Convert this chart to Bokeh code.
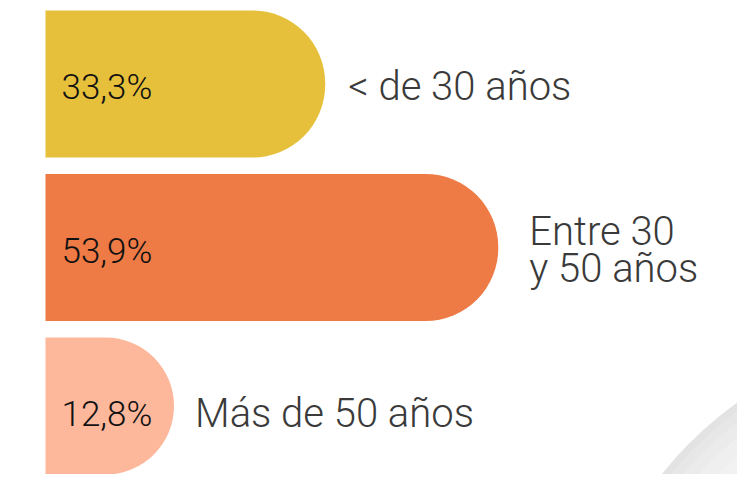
from bokeh.plotting import figure
from bokeh.models import ColumnDataSource, Range1d
from bokeh.embed import file_html
from bokeh.resources import INLINE
from bokeh.core.properties import value

# ---- data ----
categories = ["< de 30 años", "Entre 30\ny 50 años", "Más de 50 años"]
shares = [33.3, 53.9, 12.8]
pct_labels = ["33,3%", "53,9%", "12,8%"]

# ---- styles ----
colors = ["#E6C03A", "#EE7A45", "#FDB89C"]
MIN_SHOWN = 15.3          # a bar is never drawn shorter than its label needs
label_gaps = [23, 31, 21] # px between bar end and category label
LINE_STEP = 37            # px between lines of a two-line label
FONT = value("Roboto Light")

W, H = 737, 474
X0, X1 = -5.357, 82.38
Y0, Y1 = -0.5107, 2.388

shown = [max(v, MIN_SHOWN) for v in shares]
idx = list(range(len(categories)))

bars = ColumnDataSource(dict(y=idx, shown=shown, color=colors, pct=pct_labels))

lx, ly, lt, lxo, lyo = [], [], [], [], []
for i, cat in enumerate(categories):
    lines = cat.split("\n")
    n = len(lines)
    for j, line in enumerate(lines):
        lx.append(shown[i]); ly.append(i); lt.append(line)
        lxo.append(label_gaps[i])
        lyo.append(2 + (j - (n - 1) / 2) * LINE_STEP)
labels = ColumnDataSource(dict(x=lx, y=ly, text=lt, xo=lxo, yo=lyo))

p = figure(width=W, height=H, x_range=Range1d(X0, X1), y_range=Range1d(Y1, Y0),
           output_backend="svg", toolbar_location=None, min_border=0,
           outline_line_color=None, background_fill_color="white",
           border_fill_color="white")
p.axis.visible = False
p.grid.visible = False

# decorative shaded disc in the lower-right corner (pixel geometry)
def px_x(px):
    return X0 + px * (X1 - X0) / W
def px_y(py):
    return Y0 + py * (Y1 - Y0) / H
rings = [(380, "#e3e3e3"), (373, "#e7e7e7"), (364, "#ebebeb"),
         (352, "#efefef"), (338, "#f2f2f2"), (322, "#f5f5f5")]
p.scatter(x=[px_x(958)] * len(rings), y=[px_y(711)] * len(rings),
          size=[2 * r for r, _ in rings], fill_color=[c for _, c in rings],
          line_color=None, marker="circle")

p.hbar(y="y", left=0, right="shown", height=0.9, fill_color="color",
       line_color=None, border_radius=(0, 73, 73, 0), source=bars)

p.text(x=0, y="y", text="pct", x_offset=16, y_offset=3.5, source=bars,
       text_font=FONT, text_font_size="35px", text_color="#111111",
       text_baseline="alphabetic", text_align="left")

p.text(x="x", y="y", text="text", x_offset="xo", y_offset="yo", source=labels,
       text_font=FONT, text_font_size="40px", text_color="#3a3a3a",
       text_baseline="alphabetic", text_align="left")

open("out.html", "w").write(file_html(p, INLINE))
